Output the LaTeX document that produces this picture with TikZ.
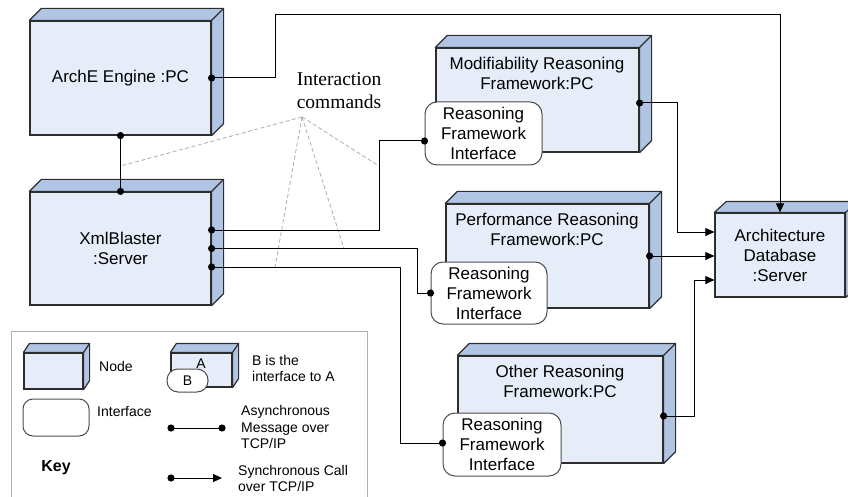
\documentclass[tikz,border=0pt]{standalone}
\usepackage{fontspec}
\setmainfont{Liberation Sans}
\newfontfamily\seriffont{Liberation Serif}
\usetikzlibrary{arrows.meta}
\definecolor{frontcol}{RGB}{230,237,248}
\definecolor{sidecol}{RGB}{176,197,228}
\definecolor{edgecol}{RGB}{45,45,45}
\newcommand\cubeside[3]{%
  \filldraw[fill=sidecol, draw=edgecol, line width=1.2pt, line join=round]
    (#1.north west) -- ++(#2,-#3) -- ([shift={(#2,-#3)}]#1.north east)
    -- ([shift={(#2,-#3)}]#1.south east) -- (#1.south east) -- (#1.north east) -- cycle;
  \draw[edgecol, line width=1.2pt] (#1.north east) -- ++(#2,-#3);
}
\newcommand\dotat[1]{\fill[black] (#1) circle[radius=3.6pt];}
\tikzset{
  face/.style={draw=edgecol, line width=1.2pt, fill=frontcol, inner sep=0pt, align=center,
    font=\fontsize{17}{20}\selectfont},
  iface/.style={draw=black!70, fill=white, rounded corners=12pt, line width=1pt, inner sep=0pt,
    align=center, font=\fontsize{17}{20}\selectfont},
  lbl/.style={align=center, font=\fontsize{17}{20}\selectfont, inner sep=0pt},
  klbl/.style={align=left, anchor=west, font=\fontsize{14}{16.5}\selectfont, inner sep=0pt},
  wire/.style={line width=1pt, black},
  syncw/.style={wire, -{Triangle[length=9pt,width=8pt]}},
  hint/.style={draw=gray!65, dash pattern=on 4pt off 2.5pt, line width=0.8pt},
}
\begin{document}
\begin{tikzpicture}[x=1pt,y=-1pt]
\useasboundingbox (0,0) rectangle (848,497);
% main nodes
\node[face, minimum width=181pt, minimum height=114pt] (arche) at (120.5,78) {ArchE Engine :PC};
\cubeside{arche}{12}{12}
\node[face, minimum width=181pt, minimum height=113pt] (xml) at (120.5,248.5) {XmlBlaster\\:Server};
\cubeside{xml}{12}{12}
\node[face, minimum width=203pt, minimum height=104pt] (mod) at (537.5,100) {};
\cubeside{mod}{12}{12}
\node[face, minimum width=203pt, minimum height=104pt] (perf) at (547.5,256) {};
\cubeside{perf}{12}{12}
\node[face, minimum width=205pt, minimum height=107pt] (other) at (560.5,409.5) {};
\cubeside{other}{12}{12}
\node[face, minimum width=130pt, minimum height=84pt] (db) at (780,255) {Architecture\\Database\\:Server};
\cubeside{db}{12}{11}
\node[lbl] (modt) at (537,73) {Modifiability Reasoning\\Framework:PC};
\node[lbl] (perft) at (547,229) {Performance Reasoning\\Framework:PC};
\node[lbl] (othert) at (560,381.5) {Other Reasoning\\Framework:PC};
% interfaces
\node[iface, minimum width=117pt, minimum height=63pt] (if1) at (483.5,133.5) {Reasoning\\Framework\\Interface};
\node[iface, minimum width=116pt, minimum height=62pt] (if2) at (489,293) {Reasoning\\Framework\\Interface};
\node[iface, minimum width=118pt, minimum height=63pt] (if3) at (502,444.5) {Reasoning\\Framework\\Interface};
% interaction hint
\node[font=\seriffont\fontsize{19.5}{23}\selectfont, align=center, inner sep=0pt] (ictext) at (339,91) {Interaction\\commands};
\coordinate (apex) at (302,117);
\coordinate (h1) at (120.5,166);
\coordinate (h2) at (379,166);
\coordinate (h3) at (344,248.5);
\coordinate (h4) at (275,267);
\foreach \h in {h1,h2,h3,h4} \draw[hint] (apex) -- (\h);
% connectors
\draw[syncw] (arche.east) -- ++(64,0) -- ++(0,-63) -| (db.north);
\dotat{arche.east}
\draw[wire] (arche.south) -- (xml.north);
\dotat{arche.south} \dotat{xml.north}
\draw[wire] ([yshift=18.5pt]xml.east) -- ++(168,0) |- ([yshift=-7.5pt]if1.west);
\dotat{[yshift=18.5pt]xml.east} \dotat{[yshift=-7.5pt]if1.west}
\draw[wire] (xml.east) -- ++(206,0) |- (if2.west);
\dotat{xml.east} \dotat{if2.west}
\draw[wire] ([yshift=-18.5pt]xml.east) -- ++(189,0) |- ([yshift=1.5pt]if3.west);
\dotat{[yshift=-18.5pt]xml.east} \dotat{[yshift=1.5pt]if3.west}
\draw[syncw] ([yshift=-3pt]mod.east) -- ++(38,0) |- ([yshift=23pt]db.west);
\dotat{[yshift=-3pt]mod.east}
\draw[syncw] (perf.east) -- (perf.east -| db.west);
\dotat{perf.east}
\draw[syncw] ([yshift=-6.5pt]other.east) -- ++(31,0) |- ([yshift=-25pt]db.west);
\dotat{[yshift=-6.5pt]other.east}
% key
\node[draw=gray!60, line width=1pt, minimum width=356pt, minimum height=180pt, anchor=north west, inner sep=0pt] (keybox) at (11,331) {};
\node[face, minimum width=59pt, minimum height=36pt] (knode) at (53.5,371) {};
\cubeside{knode}{6}{9}
\node[klbl] (knodet) at (99,366) {Node};
\node[face, minimum width=61pt, minimum height=34pt] (ka) at (201.5,370) {};
\cubeside{ka}{6}{9}
\node[font=\fontsize{14}{16}\selectfont, inner sep=0pt] (kat) at (201,364) {A};
\node[iface, rounded corners=11pt, minimum width=41pt, minimum height=23pt, font=\fontsize{14}{16}\selectfont] (kb) at (187.5,380.5) {B};
\node[klbl] (kabt) at (252,368.5) {B is the\\interface to A};
\node[iface, rounded corners=10pt, minimum width=66pt, minimum height=37pt] (kif) at (56,417.5) {};
\node[klbl] (kift) at (97,411) {Interface};
\coordinate (ka1) at (171,428);
\coordinate (ka2) at (222,428);
\draw[wire] (ka1) -- (ka2);
\dotat{ka1} \dotat{ka2}
\node[klbl] (kasync) at (241,427) {Asynchronous\\Message over\\TCP/IP};
\node[font=\bfseries\fontsize{16}{19}\selectfont, inner sep=0pt] (kkey) at (56,468) {Key};
\coordinate (ks1) at (171,478);
\coordinate (ks2) at (222,478);
\draw[syncw] (ks1) -- (ks2);
\dotat{ks1}
\node[klbl] (ksync) at (238,478.5) {Synchronous Call\\over TCP/IP};
\end{tikzpicture}
\end{document}
